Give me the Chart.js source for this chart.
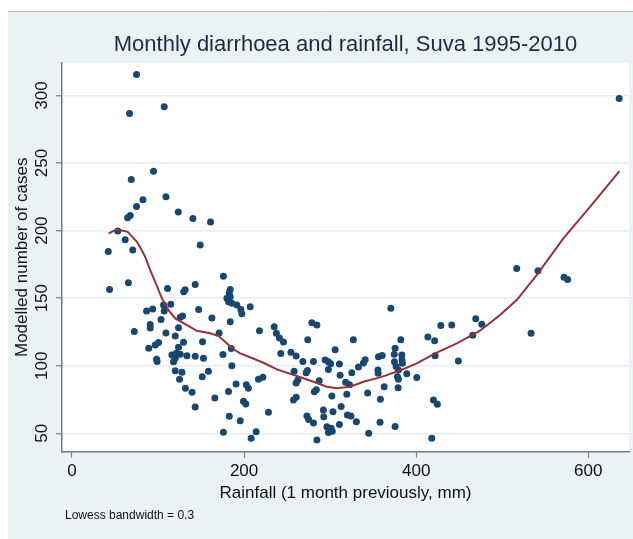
<!DOCTYPE html>
<html>
<head>
<meta charset="utf-8">
<script src="https://cdn.jsdelivr.net/npm/chart.js@4.4.1/dist/chart.umd.min.js"></script>
<style>
  html, body { margin: 0; padding: 0; background: #fff; }
  #chart { display: block; }
</style>
</head>
<body>
<canvas id="chart" width="633" height="539"></canvas>
<script>
// rainfall one month before (mm) and modelled cases
const rainfall = [
  42.2, 43.7, 53.2, 61.8, 64.6, 65.6, 66.9, 67.7, 68.9, 70.6, 72.4, 75, 75, 82.5, 86.7, 89.2, 90.9, 90.9, 93.8, 94.8,
  96.7, 98.3, 98.9, 100.6, 103.5, 106.4, 107.2, 107.2, 109.2, 109.2, 111, 114.8, 116.1, 118, 120, 120, 120, 121.1,
  123.5, 123.8, 123.8, 125, 125.8, 125.8, 127.8, 128.5, 129.8, 129.6, 131.5, 131.8, 133.6, 139.6, 140.5, 143.2,
  143.2, 143.2, 147.2, 149, 151.7, 151.4, 152.8, 158.5, 161, 162.6, 166, 171, 175.4, 176, 176, 180, 181.9, 182.7,
  183.9, 183.9, 185.8, 183.9, 185, 185.8, 181.9, 182.8, 190.7, 191.6, 195.5, 196.3, 197.4, 199.3, 202.6, 202,
  205, 207.1, 208.2, 214, 216.7, 221.8, 217.9, 228.3, 235, 237.5, 241, 245.8, 242.7, 254.4, 260.5, 258.2, 260.5,
  262.5, 257.4, 260.5, 268.3, 272.1, 273.6, 274, 273, 275, 280.6, 278.7, 284.6, 280.6, 281.6, 284, 284.6, 287.3,
  292.2, 292.6, 294.2, 296.2, 298, 298, 298, 300.5, 301.2, 302.5, 303.3, 302, 305.8, 310.8, 311.6, 310.8, 312.8,
  318, 322.5, 319.4, 320.1, 324.2, 325.2, 327, 330.5, 332.9, 338.7, 340.7, 343.6, 344.8, 356.1, 360.5, 355.5,
  355.8, 358.4, 358, 362.8, 370.5, 375.5, 374.5, 374.7, 376.7, 378.2, 379.3, 379.3, 379, 375.5, 382.1, 383.3,
  383.5, 384, 389.1, 400.7, 413.6, 421.4, 422, 418.1, 420, 424.6, 428.6, 441.3, 449, 465.7, 469.2, 476.2, 516.8,
  533.5, 541.6, 571.8, 576, 635.9
];
const cases = [
  184.5, 156.5, 199.8, 193.3, 209.5, 161.5, 286.7, 211.2, 237.9, 185.7, 125.4, 315.5, 217.9, 222.8, 140.5, 112.9, 130.5, 127.9, 142, 244,
  115.3, 104.9, 103.2, 117.2, 134.3, 144.9, 140.5, 291.6, 225, 124.2, 157.2, 145.6, 107.9, 103, 122, 105.5, 96.3, 109.2,
  213.7, 113.6, 128.1, 90, 135.8, 108.6, 95.2, 136.8, 154.7, 117.3, 156.3, 83.3, 107.4, 80.3, 209, 160.2,
  107, 69.5, 141.7, 189.4, 117.8, 91.9, 105.5, 96, 206.3, 135.3, 76.1, 124.3, 108.4, 166.3, 50.8, 149.9, 147.3, 154,
  156.5, 151, 146.2, 132.5, 112.8, 100, 81, 62.6, 86.5, 144.9, 59.3, 141.7, 138.5, 73.8, 86, 71.7,
  83.3, 143.6, 46.3, 51.2, 90, 91.4, 125.9, 65.5, 128.8, 124, 120.5, 117.5, 109, 110, 107.2, 96, 87.2,
  89.4, 74.6, 76.6, 103.2, 94.8, 96.5, 119.3, 62.8, 60.2, 57.6, 131.8, 130.1, 103.2, 80.8, 82.3, 45.1, 88.9,
  67.3, 62.3, 104.2, 54.9, 50.6, 103, 97.3, 101.5, 53.7, 51.5, 66, 77.6, 111.8, 101.3, 93, 56.5, 69.9,
  87.8, 86, 79, 63.5, 62.9, 94.8, 119.2, 58.5, 99.1, 102, 104.5, 79.8, 50, 106.7, 107.5, 96.8,
  94.4, 75.2, 58.2, 84.5, 142.5, 112.9, 108.5, 103, 99.5, 91.9, 96.8, 90, 83.8, 55, 119.3, 107.9,
  104.2, 101.8, 94, 91.3, 121.3, 118.5, 107.4, 46.3, 74.6, 71.5, 129.8, 130.1, 103.5, 122.5, 134.8, 130.8, 172,
  124, 170.3, 165.4, 163.9, 297.8
];

// lowess smooth (bandwidth 0.3)
const lowessX = [42.5, 52.3, 64.6, 75.5, 79.3, 85.1, 90.9, 96.7, 104.5, 112.2, 120, 133.6, 145.2, 160.6, 170.3, 180,
  185.8, 195.5, 203.3, 222.5, 238.1, 261.3, 280.6, 296.2, 307.8, 323.2, 338.7, 358, 381.3, 400.7, 422, 447.2,
  474.2, 497.4, 516.8, 540, 571, 602, 636.2];
const lowessY = [198, 200.9, 199.1, 191.7, 187.5, 180.6, 170.8, 162.1, 149.9, 141.2, 135, 130.1, 125.9, 124, 122, 116.6,
  112.9, 109.2, 107.2, 102.2, 97.3, 92.4, 88.2, 84.5, 83.3, 84.5, 88.2, 91.4, 96.5, 101.8, 109.2, 116.6,
  125.9, 137.5, 148.6, 167.1, 194.2, 217.6, 244];

const xTicks = [0, 200, 400, 600];
const yTicks = [50, 100, 150, 200, 250, 300];

const chartTitle = 'Monthly diarrhoea and rainfall, Suva 1995-2010';
const xTitle = 'Rainfall (1 month previously, mm)';
const yTitle = 'Modelled number of cases';
const note = 'Lowess bandwidth = 0.3';

const FONT = '"Liberation Sans", Arial, Helvetica, sans-serif';
const axisGrey = '#7a7a7a';

const pts = rainfall.map((r, i) => ({x: r, y: cases[i]}));
const curve = lowessX.map((r, i) => ({x: r, y: lowessY[i]}));

// stata-like background: pale blue graph region, white plot region
const backdrop = {
  id: 'backdrop',
  beforeDraw(chart) {
    const {ctx, chartArea: a} = chart;
    ctx.save();
    ctx.fillStyle = '#ffffff';
    ctx.fillRect(0, 0, chart.width, chart.height);
    ctx.fillStyle = '#eaf2f3';
    ctx.fillRect(8, 11, chart.width - 8, chart.height - 11);
    ctx.strokeStyle = '#b8bcbf';
    ctx.lineWidth = 1;
    ctx.beginPath();
    ctx.moveTo(8, 11.5);
    ctx.lineTo(chart.width, 11.5);
    ctx.stroke();
    ctx.fillStyle = '#ffffff';
    ctx.fillRect(a.left, a.top, a.right - a.left, a.bottom - a.top);
    ctx.restore();
  },
  afterDraw(chart) {
    const ctx = chart.ctx;
    ctx.save();
    ctx.font = '12px ' + FONT;
    ctx.fillStyle = '#111';
    ctx.textBaseline = 'middle';
    ctx.fillText(note, 65, 516);
    ctx.restore();
  }
};

new Chart(document.getElementById('chart'), {
  type: 'scatter',
  data: {
    datasets: [
      {
        type: 'line',
        data: curve,
        borderColor: '#90353b',
        borderWidth: 2,
        pointRadius: 0,
        tension: 0,
        fill: false
      },
      {
        data: pts,
        backgroundColor: '#1a476f',
        borderWidth: 0,
        pointRadius: 3.5
      }
    ]
  },
  plugins: [backdrop],
  options: {
    responsive: false,
    animation: false,
    events: [],
    layout: {padding: {left: 0, right: 4, top: 0, bottom: 0}},
    plugins: {
      legend: {display: false},
      tooltip: {enabled: false},
      title: {
        display: true,
        text: chartTitle,
        fullSize: false,
        color: '#1c2a44',
        font: {family: FONT, size: 22, weight: 'normal'},
        padding: {top: 32, bottom: 4.5}
      }
    },
    scales: {
      x: {
        type: 'linear',
        min: -11.6,
        max: 647.3,
        afterBuildTicks: s => { s.ticks = xTicks.map(v => ({value: v})); },
        afterFit: s => { s.height = 87.3; },
        grid: {drawOnChartArea: false, drawTicks: true, tickLength: 6, tickColor: axisGrey, tickWidth: 1.2},
        border: {color: axisGrey, width: 1.5},
        ticks: {color: '#111', font: {family: FONT, size: 17}, padding: 3, maxRotation: 0},
        title: {display: true, text: xTitle, color: '#111', font: {family: FONT, size: 17}, padding: {top: 0, bottom: 35.5}}
      },
      y: {
        type: 'linear',
        min: 36.4,
        max: 324.1,
        afterBuildTicks: s => { s.ticks = yTicks.map(v => ({value: v})); },
        afterFit: s => { s.width = 62; },
        grid: {color: '#e4eef0', lineWidth: 1.5, drawTicks: true, tickLength: 6, tickColor: axisGrey, tickWidth: 1.2},
        border: {color: axisGrey, width: 1.5},
        ticks: {color: '#111', font: {family: FONT, size: 17}, padding: 0, minRotation: 90, maxRotation: 90, crossAlign: 'center'},
        title: {display: true, text: yTitle, color: '#111', font: {family: FONT, size: 17}, padding: {top: 12.5, bottom: 0}}
      }
    }
  }
});
</script>
</body>
</html>
